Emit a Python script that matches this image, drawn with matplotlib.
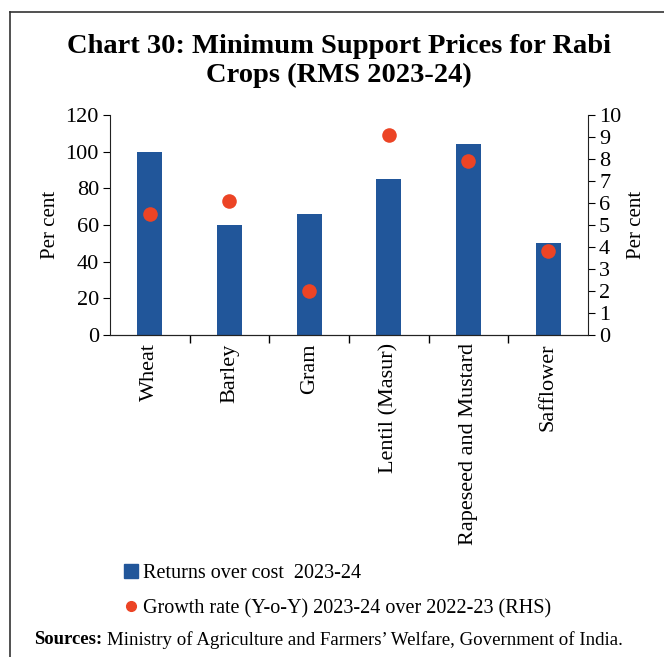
import matplotlib.pyplot as plt
from matplotlib.lines import Line2D
from matplotlib.patches import Patch

crops = ['Wheat', 'Barley', 'Gram', 'Lentil (Masur)', 'Rapeseed and Mustard', 'Safflower']
returns_over_cost = [100, 60, 66, 85, 104, 50]
growth_rate = [5.5, 6.1, 2.0, 9.1, 7.9, 3.8]

bar_color = '#21569a'
dot_color = '#ec4425'

plt.rcParams['font.family'] = ['Liberation Serif', 'DejaVu Serif']

fig = plt.figure(figsize=(6.64, 6.57), dpi=100)
ax = fig.add_axes([110 / 664, 1 - 335 / 657, 478 / 664, 220 / 657])
ax2 = ax.twinx()

x = list(range(len(crops)))
ax.bar(x, returns_over_cost, width=0.31, color=bar_color, zorder=2)
ax2.scatter(x, growth_rate, s=110, color=dot_color, zorder=3, linewidths=0)

ax.set_xlim(-0.5, len(crops) - 0.5)
ax.set_ylim(0, 120)
ax.set_yticks(range(0, 121, 20))
ax2.set_ylim(0, 10)
ax2.set_yticks(range(0, 11))

# category labels, ticks at boundaries
ax.set_xticks(x)
ax.set_xticklabels(crops, rotation=90, fontsize=16)
ax.tick_params(axis='x', length=0, pad=6)
ax.set_xticks([i + 0.5 for i in range(len(crops) - 1)], minor=True)
ax.tick_params(axis='x', which='minor', length=6, direction='out', width=1)

ax.tick_params(axis='y', labelsize=16, length=5, direction='out', pad=3)
ax2.tick_params(axis='y', labelsize=16, length=5, direction='out', pad=3)
ax.set_ylabel('Per cent', fontsize=15, labelpad=4)
ax2.set_ylabel('Per cent', fontsize=15, labelpad=4)

for a in (ax, ax2):
    a.spines['top'].set_visible(False)
    for s in a.spines.values():
        s.set_color('#222222')
ax2.spines['left'].set_visible(False)
ax.spines['right'].set_visible(False)

fig.text(0.51, 1 - 61 / 657, 'Chart 30: Minimum Support Prices for Rabi\nCrops (RMS 2023-24)',
         ha='center', va='center', fontsize=20.5, fontweight='bold', linespacing=1.2)

handles = [Patch(color=bar_color), Line2D([], [], marker='o', color=dot_color, linestyle='none', markersize=7)]
fig.legend(handles, ['Returns over cost  2023-24', 'Growth rate (Y-o-Y) 2023-24 over 2022-23 (RHS)'],
           loc='upper left', bbox_to_anchor=(116 / 664, 1 - 556 / 657), frameon=False,
           fontsize=14.5, handlelength=0.7, handletextpad=0.25, labelspacing=0.8, borderaxespad=0)

# sources line: bold label then plain text
src = fig.text(34 / 664, 1 - 640 / 657, 'Sources:', ha='left', va='center',
               fontsize=13.5, fontweight='bold')
r = fig.canvas.get_renderer()
bb = src.get_window_extent(r)
fig.text((bb.x1 + 5) / fig.bbox.width, 1 - 640 / 657,
         'Ministry of Agriculture and Farmers’ Welfare, Government of India.',
         ha='left', va='center', fontsize=13.6)

# frame
fig.add_artist(Line2D([10 / 664, 10 / 664], [0, 1 - 12 / 657], color='#333333', lw=1.2))
fig.add_artist(Line2D([10 / 664, 1], [1 - 12 / 657, 1 - 12 / 657], color='#333333', lw=1.2))

fig.savefig('out.png', dpi=100)
